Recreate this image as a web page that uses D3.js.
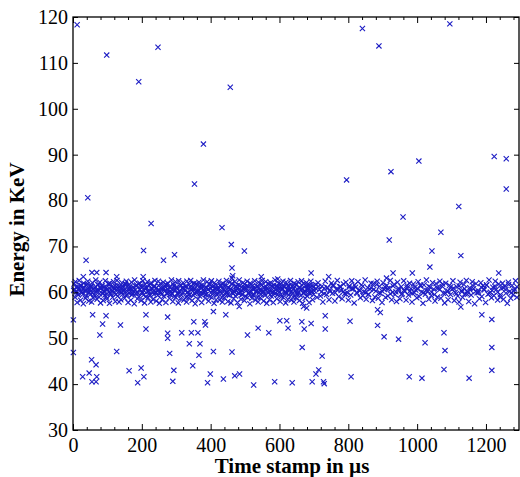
<!DOCTYPE html>
<html>
<head>
<meta charset="utf-8">
<script src="https://cdnjs.cloudflare.com/ajax/libs/d3/7.8.5/d3.min.js"></script>
<style>
  body { margin: 0; background: #fff; }
  text { font-family: "Liberation Serif", "Times New Roman", serif; }
</style>
</head>
<body>
<script>
var w = 520;
var h = 477;

// high outliers [time, energy]
var highPoints = [[12,118.3],[98,111.7],[247,113.4],[191,105.9],[457,104.7],[379,92.3],[353,83.6],[43,80.6],
  [227,75.0],[433,74.1],[841,117.5],[1095,118.5],[889,113.7],[795,84.5],[924,86.3],[1005,88.6],[1224,89.6],
  [1259,89.1],[1259,82.5],[1121,78.7],[959,76.4],[1069,73.1],[919,71.4],[205,69.1],[460,70.4],[498,69.0],
  [38,67.0],[263,67.0],[295,68.2],[1043,69.0],[1127,68.0],[1037,65.5]];

// just above the band
var nearHigh = [[55,64.3],[69,64.3],[96,64.3],[127,63.4],[462,65.3],[464,63.6],[30,63.4],[204,63.4],
  [547,63.4],[595,62.9],[930,64.2],[911,63.1],[986,64.2],[1237,64.2],[692,64.2],[743,63.4],[462,63.1]];

// below the band
var lowPoints = [[1,54.0],[57,55.1],[96,54.9],[86,53.1],[78,50.7],[138,52.9],[212,55.1],[212,52.0],[275,54.6],
  [275,51.1],[275,50.0],[281,46.7],[316,51.2],[344,51.2],[363,51.2],[351,53.6],[383,53.6],[385,52.9],[338,48.8],
  [369,48.8],[366,46.3],[408,55.8],[408,47.1],[444,55.1],[462,47.0],[483,56.9],[507,50.7],[538,52.2],[569,51.2],
  [601,53.8],[621,53.8],[625,52.2],[1,46.9],[127,47.1],[54,45.3],[67,44.2],[28,41.6],[47,42.4],[69,41.6],
  [55,40.5],[67,40.5],[163,42.9],[198,43.5],[206,41.6],[188,40.3],[293,43.0],[290,40.6],[348,44.0],[399,42.2],
  [391,40.3],[437,41.1],[470,41.8],[484,42.2],[525,39.8],[586,40.5],[670,56.9],[679,56.6],[733,54.9],[665,53.6],
  [692,53.2],[672,52.0],[733,52.0],[805,53.7],[885,56.2],[893,55.6],[885,52.8],[979,54.1],[904,50.3],[946,49.8],
  [1023,49.0],[1078,51.2],[1081,47.3],[1188,55.1],[1217,54.1],[1217,48.0],[666,48.0],[724,46.1],[714,43.1],
  [706,42.2],[637,40.3],[695,40.5],[728,40.5],[730,40.1],[808,41.6],[977,41.6],[1014,41.3],[1078,43.2],
  [1151,41.3],[1217,43.0],[1127,56.8]];

// band around 60 KeV, first half (outer spread)
var bandLeft = [[2,60.4],[3,61.8],[6,58.9],[7,62.3],[10,60.1],[12,57.8],[14,61.2],[15,59.4],[18,62.6],[19,60.7],
  [22,58.3],[24,61.5],[26,59.9],[27,60.9],[30,57.5],[31,62.0],[34,60.3],[36,58.7],[38,61.6],[39,59.2],[42,60.8],
  [43,62.4],[46,58.1],[48,60.0],[50,61.3],[51,59.6],[54,57.9],[56,62.1],[58,60.6],[59,58.8],[62,61.0],[64,59.3],
  [66,62.7],[67,60.2],[70,58.5],[72,61.7],[74,60.5],[75,59.0],[78,62.2],[80,57.7],[82,60.9],[83,61.4],[86,59.7],
  [88,58.2],[90,61.1],[91,60.3],[94,62.5],[96,59.1],[98,60.7],[99,58.6],[102,61.8],[104,60.0],[106,57.6],[107,62.0],
  [110,59.5],[112,61.2],[114,60.4],[115,58.9],[118,62.3],[120,59.8],[122,61.5],[123,58.0],[126,60.6],[128,62.6],
  [130,59.2],[131,60.9],[134,57.9],[136,61.3],[138,60.1],[139,58.4],[142,62.1],[144,59.6],[146,61.0],[147,60.5],
  [150,58.7],[152,61.9],[154,59.3],[155,62.4],[158,60.2],[160,57.8],[162,61.6],[163,59.9],[166,60.8],[168,58.3],
  [170,62.2],[171,59.4],[174,61.1],[176,60.3],[178,57.5],[179,62.7],[182,59.7],[184,61.4],[186,60.0],[187,58.6],
  [190,61.8],[192,59.1],[194,62.0],[195,60.6],[198,58.2],[200,61.2],[202,59.8],[203,62.5],[206,60.4],[208,57.7],
  [210,61.7],[211,59.0],[214,60.9],[216,62.3],[218,58.8],[219,60.2],[222,61.5],[224,59.4],[226,57.9],[227,62.1],
  [230,60.7],[232,58.5],[234,61.3],[235,59.6],[238,62.6],[240,60.1],[242,58.1],[243,61.0],[246,59.3],[248,62.4],
  [250,60.5],[251,57.6],[254,61.9],[256,59.9],[258,60.8],[259,58.4],[262,62.2],[264,59.2],[266,61.4],[267,60.3],
  [270,57.8],[272,61.6],[274,59.7],[275,62.0],[278,60.0],[280,58.7],[282,61.1],[283,59.5],[286,62.7],[288,60.6],
  [290,58.0],[291,61.8],[294,59.1],[296,60.4],[298,62.3],[299,58.9],[302,61.2],[304,59.8],[306,57.7],[307,62.5],
  [310,60.2],[312,58.6],[314,61.5],[315,59.4],[318,60.9],[320,62.1],[322,58.3],[323,60.7],[326,61.3],[328,59.0],
  [330,57.9],[331,62.4],[334,60.1],[336,58.8],[338,61.7],[339,59.6],[342,62.6],[344,60.5],[346,58.2],[347,61.0],
  [350,59.3],[352,62.0],[354,60.8],[355,57.5],[358,61.9],[360,59.9],[362,60.3],[363,58.5],[366,62.2],[368,59.2],
  [370,61.4],[371,60.0],[374,57.8],[376,61.6],[378,59.7],[379,62.7],[382,60.4],[384,58.7],[386,61.1],[387,59.5],
  [390,62.3],[392,60.6],[394,58.1],[395,61.8],[398,59.1],[400,60.9],[402,62.5],[403,58.9],[406,61.2],[408,59.8],
  [410,57.6],[411,62.1],[414,60.2],[416,58.4],[418,61.5],[419,59.4],[422,60.7],[424,62.4],[426,58.3],[427,60.0],
  [430,61.3],[432,59.0],[434,57.9],[435,62.0],[438,60.5],[440,58.8],[442,61.7],[443,59.6],[446,62.6],[448,60.1],
  [450,58.0],[451,61.0],[454,59.3],[456,62.2],[458,60.8],[459,57.7],[462,61.9],[464,59.9],[466,60.3],[467,58.6],
  [470,62.3],[472,59.2],[474,61.4],[475,60.4],[478,57.8],[480,61.6],[482,59.7],[483,62.7],[486,60.0],[488,58.5],
  [490,61.1],[491,59.5],[494,62.1],[496,60.6],[498,58.2],[499,61.8],[502,59.1],[504,60.9],[506,62.4],[507,58.9],
  [510,61.2],[512,59.8],[514,57.5],[515,62.0],[518,60.2],[520,58.7],[522,61.5],[523,59.4],[526,60.7],[528,62.5],
  [530,58.3],[531,60.1],[534,61.3],[536,59.0],[538,57.9],[539,62.2],[542,60.5],[544,58.8],[546,61.7],[547,59.6],
  [550,62.6],[552,60.3],[554,58.1],[555,61.0],[558,59.3],[560,62.3],[562,60.8],[563,57.6],[566,61.9],[568,59.9],
  [570,60.4],[571,58.4],[574,62.1],[576,59.2],[578,61.4],[579,60.0],[582,57.8],[584,61.6],[586,59.7],[587,62.7],
  [590,60.6],[592,58.6],[594,61.1],[595,59.5],[598,62.0],[600,60.2],[602,58.0],[603,61.8],[606,59.1],[608,60.9],
  [610,62.4],[611,58.9],[614,61.2],[616,59.8],[618,57.7],[619,62.2],[622,60.5],[624,58.5],[626,61.5],[627,59.4],
  [630,60.7],[632,62.6],[634,58.3],[635,60.1],[638,61.3],[640,59.0],[642,57.9],[643,62.0],[646,60.4],[648,58.8],
  [650,61.7],[651,59.6],[654,62.3],[656,60.0],[658,58.2],[659,61.0],[662,59.3],[664,62.5],[666,60.8],[667,57.6],
  [670,61.9],[672,59.9],[674,60.3],[675,58.7],[678,62.1],[680,59.2],[682,61.4],[683,60.6],[686,57.8],[688,61.6],
  [690,59.7],[691,62.4],[694,60.2],[696,58.4],[698,61.1],[699,59.5]];

// band core, first half
var coreLeft = [[4,60.6],[9,61.1],[13,59.8],[17,60.9],[21,61.5],[25,60.2],[29,59.6],[33,61.0],[37,60.4],[41,61.7],
  [45,59.9],[49,60.7],[53,61.3],[57,60.0],[61,59.5],[65,61.2],[69,60.5],[73,61.6],[77,59.7],[81,60.8],[85,61.4],
  [89,60.1],[93,59.4],[97,61.0],[101,60.6],[105,61.8],[109,59.8],[113,60.3],[117,61.1],[121,60.7],[125,59.6],
  [129,61.5],[133,60.2],[137,60.9],[141,59.9],[145,61.3],[149,60.4],[153,61.7],[157,59.5],[161,60.8],[165,61.2],
  [169,60.0],[173,59.7],[177,61.0],[181,60.5],[185,61.6],[189,59.8],[193,60.6],[197,61.4],[201,60.1],[205,59.4],
  [209,60.9],[213,61.1],[217,60.3],[221,59.6],[225,61.8],[229,60.7],[233,60.0],[237,61.3],[241,59.9],[245,60.4],
  [249,61.5],[253,60.2],[257,59.5],[261,61.0],[265,60.8],[269,61.7],[273,59.8],[277,60.5],[281,61.2],[285,60.1],
  [289,59.7],[293,61.4],[297,60.6],[301,61.0],[305,59.6],[309,60.3],[313,61.6],[317,60.9],[321,59.9],[325,60.4],
  [329,61.3],[333,60.0],[337,59.4],[341,61.1],[345,60.7],[349,61.8],[353,59.8],[357,60.2],[361,61.5],[365,60.5],
  [369,59.7],[373,60.9],[377,61.2],[381,60.1],[385,59.5],[389,61.0],[393,60.6],[397,61.7],[401,59.9],[405,60.4],
  [409,61.4],[413,60.8],[417,59.6],[421,61.1],[425,60.3],[429,61.6],[433,59.8],[437,60.7],[441,61.3],[445,60.0],
  [449,59.5],[453,61.0],[457,60.5],[461,61.8],[465,59.7],[469,60.2],[473,61.2],[477,60.9],[481,59.9],[485,61.5],
  [489,60.4],[493,59.6],[497,61.1],[501,60.6],[505,61.4],[509,59.8],[513,60.1],[517,61.7],[521,60.8],[525,59.4],
  [529,61.0],[533,60.3],[537,61.3],[541,59.9],[545,60.5],[549,61.6],[553,60.0],[557,59.7],[561,61.2],[565,60.7],
  [569,61.8],[573,59.5],[577,60.4],[581,61.1],[585,60.2],[589,59.8],[593,61.4],[597,60.9],[601,61.0],[605,59.6],
  [609,60.6],[613,61.5],[617,60.1],[621,59.9],[625,61.3],[629,60.4],[633,61.7],[637,59.7],[641,60.8],[645,61.2],
  [649,60.0],[653,59.5],[657,61.0],[661,60.5],[665,61.6],[669,59.8],[673,60.3],[677,61.4],[681,60.7],[685,59.9],
  [689,61.1],[693,60.2],[697,61.5]];

// band, second half (sparser)
var bandRight = [[702,60.3],[705,61.7],[709,58.9],[712,62.1],[716,60.6],[719,59.2],[723,61.3],[726,57.9],[730,60.9],
  [733,62.4],[737,59.5],[740,61.0],[744,58.4],[747,60.2],[751,62.0],[754,59.8],[758,61.5],[761,58.1],[765,60.7],
  [768,62.6],[772,59.1],[775,61.2],[779,60.4],[782,58.6],[786,61.8],[789,59.7],[793,62.2],[796,60.0],[800,58.3],
  [803,61.4],[807,59.4],[810,62.5],[814,60.8],[817,57.7],[821,61.1],[824,59.9],[828,62.3],[831,60.5],[835,58.8],
  [838,61.6],[842,59.3],[845,60.1],[849,62.7],[852,58.5],[856,61.0],[859,59.6],[863,60.7],[866,62.0],[870,58.2],
  [873,61.9],[877,59.0],[880,60.3],[884,62.4],[887,58.7],[891,61.3],[894,59.8],[898,57.8],[901,62.1],[905,60.6],
  [908,58.9],[912,61.5],[915,59.2],[919,60.9],[922,62.6],[926,58.4],[929,60.0],[933,61.7],[936,59.5],[940,58.0],
  [943,62.2],[947,60.4],[950,58.6],[954,61.2],[957,59.7],[961,62.5],[964,60.2],[968,58.3],[971,61.0],[975,59.4],
  [978,62.0],[982,60.8],[985,57.9],[989,61.8],[992,59.9],[996,60.5],[999,58.8],[1003,62.3],[1006,59.1],[1010,61.4],
  [1013,60.1],[1017,57.6],[1020,61.6],[1024,59.6],[1027,62.7],[1031,60.3],[1034,58.5],[1038,61.1],[1041,59.3],
  [1045,62.1],[1048,60.7],[1052,58.1],[1055,61.9],[1059,59.0],[1062,60.9],[1066,62.4],[1069,58.7],[1073,61.3],
  [1076,59.8],[1080,57.7],[1083,62.0],[1087,60.2],[1090,58.4],[1094,61.5],[1097,59.5],[1101,60.6],[1104,62.5],
  [1108,58.2],[1111,60.0],[1115,61.2],[1118,59.2],[1122,57.9],[1125,62.2],[1129,60.4],[1132,58.9],[1136,61.7],
  [1139,59.7],[1143,62.6],[1146,60.1],[1150,58.0],[1153,61.0],[1157,59.4],[1160,62.3],[1164,60.8],[1167,57.5],
  [1171,61.9],[1174,59.9],[1178,60.3],[1181,58.6],[1185,62.1],[1188,59.1],[1192,61.4],[1195,60.5],[1199,57.8],
  [1202,61.6],[1206,59.6],[1209,62.7],[1213,60.0],[1216,58.8],[1220,61.1],[1223,59.3],[1227,62.4],[1230,60.6],
  [1234,58.3],[1237,61.8],[1241,59.0],[1244,60.9],[1248,62.0],[1251,58.5],[1255,61.3],[1258,59.8],[1262,57.6],
  [1265,62.2],[1269,60.2],[1272,58.7],[1276,61.5],[1279,59.5],[1283,60.7],[1286,62.5],[1290,58.9]];

// band core, second half
var coreRight = [[706,60.8],[714,61.3],[722,60.1],[730,59.7],[738,61.0],[746,60.5],[754,61.5],[762,59.9],[770,60.6],
  [778,61.2],[786,60.2],[794,59.6],[802,61.1],[810,60.7],[818,61.6],[826,59.8],[834,60.4],[842,61.3],[850,60.0],
  [858,59.5],[866,61.0],[874,60.6],[882,61.7],[890,59.9],[898,60.3],[906,61.2],[914,60.8],[922,59.7],[930,61.4],
  [938,60.1],[946,60.9],[954,59.6],[962,60.5],[970,61.5],[978,60.2],[986,59.8],[994,61.1],[1002,60.7],[1010,61.6],
  [1018,59.9],[1026,60.4],[1034,61.3],[1042,60.0],[1050,59.5],[1058,61.0],[1066,60.6],[1074,61.8],[1082,59.8],
  [1090,60.3],[1098,61.2],[1106,60.9],[1114,59.7],[1122,61.4],[1130,60.1],[1138,60.8],[1146,59.6],[1154,60.5],
  [1162,61.5],[1170,60.2],[1178,59.9],[1186,61.1],[1194,60.7],[1202,61.6],[1210,59.8],[1218,60.4],[1226,61.3],
  [1234,60.0],[1242,59.5],[1250,61.0],[1258,60.6],[1266,61.7],[1274,59.9],[1282,60.3],[1290,61.2]];

var xTicks = [0, 200, 400, 600, 800, 1000, 1200];
var yTicks = [30, 40, 50, 60, 70, 80, 90, 100, 110, 120];

var margin = {top: 17, right: 1, bottom: 47, left: 73};

var svg = d3.select("body")
            .append("svg")
              .attr("width", w)
              .attr("height", h);

var x = d3.scaleLinear()
          .domain([0, 1296])
          .range([margin.left, w - margin.right]);
var y = d3.scaleLinear()
          .domain([30, 120])
          .range([h - margin.bottom, margin.top]);

var allPoints = bandLeft.concat(coreLeft, bandRight, coreRight, highPoints, nearHigh, lowPoints);

var s = 2.6;
svg.append("g")
    .selectAll("path")
    .data(allPoints)
    .enter()
    .append("path")
      .attr("d", function(d) {
        var cx = x(d[0]), cy = y(d[1]);
        return "M" + (cx - s) + "," + (cy - s) + "L" + (cx + s) + "," + (cy + s) +
               "M" + (cx - s) + "," + (cy + s) + "L" + (cx + s) + "," + (cy - s);
      })
      .attr("stroke", "#1c1cc4")
      .attr("stroke-width", 1.1)
      .attr("fill", "none");

// minor x ticks every 40
var minorX = d3.range(0, 1297, 40).filter(function(v) { return v % 200 !== 0; });

var axisFont = "20px";
var fmt = d3.format("d");

// bottom axis
svg.append("g")
    .attr("transform", "translate(0," + y(30) + ")")
    .call(d3.axisBottom(x).tickValues(xTicks).tickFormat(fmt).tickSizeInner(-6).tickSizeOuter(0).tickPadding(8))
    .call(function(g) {
      g.select(".domain").remove();
      g.selectAll("text").style("font-size", axisFont).attr("fill", "#000");
    });
svg.append("g")
    .attr("transform", "translate(0," + y(30) + ")")
    .call(d3.axisBottom(x).tickValues(minorX).tickSizeInner(-3).tickSizeOuter(0).tickFormat(""))
    .call(function(g) { g.select(".domain").remove(); });

// top axis
svg.append("g")
    .attr("transform", "translate(0," + y(120) + ")")
    .call(d3.axisTop(x).tickValues(xTicks).tickSizeInner(-6).tickSizeOuter(0).tickFormat(""))
    .call(function(g) { g.select(".domain").remove(); });
svg.append("g")
    .attr("transform", "translate(0," + y(120) + ")")
    .call(d3.axisTop(x).tickValues(minorX).tickSizeInner(-3).tickSizeOuter(0).tickFormat(""))
    .call(function(g) { g.select(".domain").remove(); });

// left axis
svg.append("g")
    .attr("transform", "translate(" + x(0) + ",0)")
    .call(d3.axisLeft(y).tickValues(yTicks).tickFormat(fmt).tickSizeInner(-5).tickSizeOuter(0).tickPadding(5))
    .call(function(g) {
      g.select(".domain").remove();
      g.selectAll("text").style("font-size", axisFont).attr("fill", "#000");
    });

// right axis
svg.append("g")
    .attr("transform", "translate(" + (w - margin.right) + ",0)")
    .call(d3.axisRight(y).tickValues(yTicks).tickSizeInner(-5).tickSizeOuter(0).tickFormat(""))
    .call(function(g) { g.select(".domain").remove(); });

// box
svg.append("rect")
    .attr("x", x(0))
    .attr("y", y(120))
    .attr("width", x(1296) - x(0))
    .attr("height", y(30) - y(120))
    .attr("fill", "none")
    .attr("stroke", "#000")
    .attr("stroke-width", 1.3);

svg.append("text")
    .attr("x", 292)
    .attr("y", 473)
    .attr("text-anchor", "middle")
    .style("font-size", "21px")
    .style("font-weight", "bold")
    .text("Time stamp in µs");

svg.append("text")
    .attr("transform", "translate(24," + ((y(30) + y(120)) / 2 + 6) + ") rotate(-90)")
    .attr("text-anchor", "middle")
    .style("font-size", "21px")
    .style("font-weight", "bold")
    .text("Energy in KeV");
</script>
</body>
</html>
